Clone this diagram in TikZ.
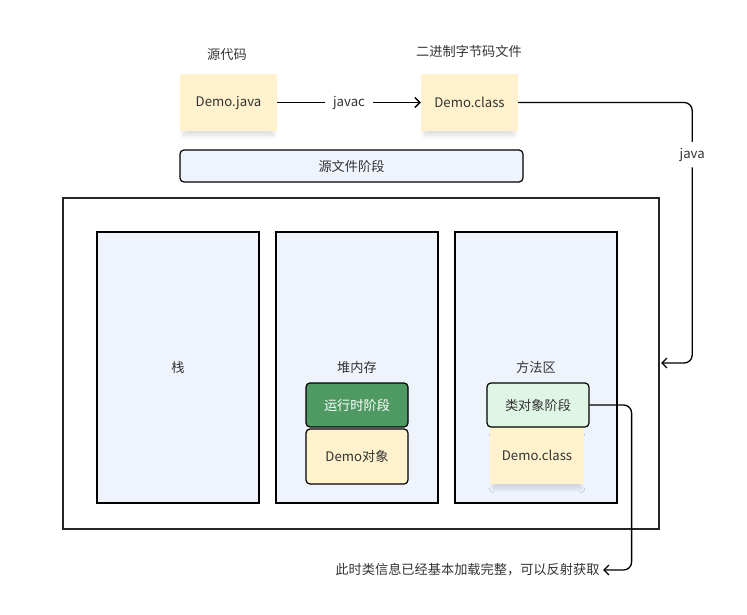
\documentclass[tikz,border=0pt]{standalone}
\usepackage{fontspec}
\setmainfont{Noto Sans CJK SC}
\usepackage{tikz}
\usetikzlibrary{arrows.meta}
\usetikzlibrary{shadows.blur}
\definecolor{cream}{HTML}{FFF2CC}
\definecolor{paleblue}{HTML}{EEF3FC}
\definecolor{darkgreen}{HTML}{4E9A62}
\definecolor{palegreen}{HTML}{DFF5E5}
\definecolor{ink}{HTML}{333333}

\begin{document}
\begin{tikzpicture}[x=1pt,y=-1pt,font=\fontsize{13.2}{16}\selectfont,text=ink,
  filebox/.style={fill=cream,minimum width=97pt,minimum height=57pt,blur shadow={shadow xshift=0pt,shadow yshift=-7pt,shadow scale=0.92,shadow blur radius=5pt,shadow blur steps=10,shadow opacity=15}},
  areabox/.style={draw=black,line width=1.2pt,fill=paleblue,minimum width=162pt,minimum height=271pt},
  stagebox/.style={draw=black,line width=1.2pt,rounded corners=4pt,minimum width=102pt},
  link/.style={line width=1.3pt,rounded corners=8pt},
  arr/.style={link,-{Straight Barb[length=5pt,width=10pt]}}]
  \useasboundingbox (0,0) rectangle (747,615);
  %top
  \node[filebox] (srcfile) at (228.5,102.5) {Demo.java};
  \node[filebox] (binfile) at (469.5,102.5) {Demo.class};
  \node (srclbl) at (227,55) {源代码};
  \node (binlbl) at (469,51) {二进制字节码文件};
  \node[draw=black,line width=1.2pt,rounded corners=4pt,fill=paleblue,minimum width=343pt,minimum height=32pt] (srcstage) at (351.5,166) {源文件阶段};
  \draw[arr] (srcfile.east) -- node[fill=white,inner xsep=8pt]{javac} (binfile.west);
  %jvm
  \node[draw=black!85,line width=1.5pt,minimum width=596pt,minimum height=331pt] (jvm) at (361,363.5) {};
  \node[areabox] (stack) at (178,367.5) {栈};
  \node[areabox] (heap) at (357,367.5) {堆内存};
  \node[areabox] (method) at (536,367.5) {方法区};
  %heap
  \node[stagebox,fill=darkgreen,text=white,minimum height=44pt] (runstage) at (357,405) {运行时阶段};
  \node[stagebox,fill=cream,minimum height=55pt] (demoobj) at (357,456.5) {Demo对象};
  %method area
  \node[filebox,minimum width=94pt] (classfile) at (537,455.5) {Demo.class};
  \node[stagebox,fill=palegreen,minimum height=44pt] (clsstage) at (538,405) {类对象阶段};
  \coordinate (jvmin) at (661,363);
  \draw[arr] (binfile.east) -- ++(174,0) |- node[pos=0.1,fill=white,inner ysep=6pt]{java} (jvmin);
  %note
  \node[anchor=east] (note) at (603,570) {此时类信息已经基本加载完整，可以反射获取};
  \draw[arr] (clsstage.east) -- ++(42,0) |- (note.east);
\end{tikzpicture}
\end{document}
